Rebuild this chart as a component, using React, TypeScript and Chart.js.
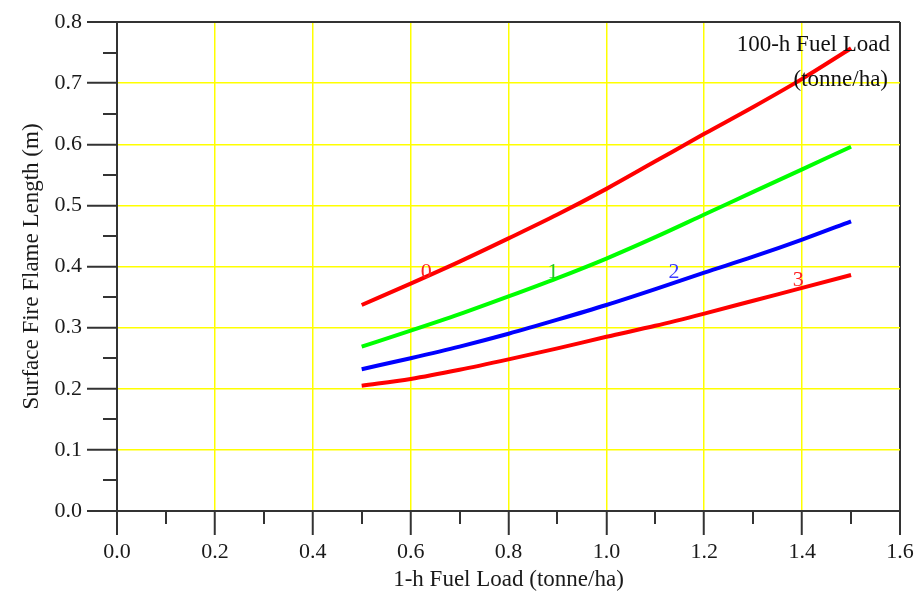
import React, { useEffect, useRef } from 'react';
import { Chart, registerables } from 'chart.js';

Chart.register(...registerables);

// 1-h fuel load (tonne/ha)
const X_VALUES = [0.5, 0.6, 0.7, 0.8, 0.9, 1.0, 1.1, 1.2, 1.3, 1.4, 1.5];
// Surface fire flame length (m) for 100-h fuel load 0,1,2,3 tonne/ha
const SERIES_0 = [0.337, 0.372, 0.408, 0.446, 0.485, 0.527, 0.572, 0.617, 0.661, 0.707, 0.757];
const SERIES_1 = [0.269, 0.295, 0.322, 0.351, 0.381, 0.413, 0.448, 0.485, 0.522, 0.559, 0.596];
const SERIES_2 = [0.232, 0.250, 0.269, 0.290, 0.313, 0.337, 0.363, 0.390, 0.416, 0.444, 0.474];
const SERIES_3 = [0.205, 0.216, 0.231, 0.248, 0.266, 0.285, 0.303, 0.323, 0.344, 0.365, 0.386];
const SERIES_NAMES = ['0', '1', '2', '3'];
const SERIES_COLORS = ['#ff0000', '#00ff00', '#0000ff', '#ff0000'];
const LABEL_COLORS = ['#ff2020', '#20c820', '#3a3aff', '#ff2020'];
// where the series names sit (data coordinates)
const LABEL_X = [0.632, 0.891, 1.138, 1.392];
const LABEL_Y = [0.391, 0.391, 0.390, 0.378];

const X_TICKS = [0, 0.2, 0.4, 0.6, 0.8, 1.0, 1.2, 1.4, 1.6];
const X_MINOR = [0.1, 0.3, 0.5, 0.7, 0.9, 1.1, 1.3, 1.5];
const Y_TICKS = [0, 0.1, 0.2, 0.3, 0.4, 0.5, 0.6, 0.7, 0.8];
const Y_MINOR = [0.05, 0.15, 0.25, 0.35, 0.45, 0.55, 0.65, 0.75];

const X_TITLE = '1-h Fuel Load (tonne/ha)';
const Y_TITLE = 'Surface Fire Flame Length (m)';
const LEGEND_TITLE = ['100-h Fuel Load', '(tonne/ha)'];

const FONT = '"Liberation Serif", "Times New Roman", serif';
const AXIS = '#333333';
const GRID = '#ffff00';

const near = (a: number, b: number) => Math.abs(a - b) < 1e-6;

const extras = {
  id: 'extras',
  afterDraw(chart: any) {
    const { ctx, chartArea, scales } = chart;
    const x = scales.x;
    const y = scales.y;
    ctx.save();
    ctx.strokeStyle = AXIS;
    ctx.lineWidth = 2;
    ctx.beginPath();
    X_MINOR.forEach((v) => {
      const px = Math.round(x.getPixelForValue(v));
      ctx.moveTo(px, chartArea.bottom);
      ctx.lineTo(px, chartArea.bottom + 13);
    });
    Y_MINOR.forEach((v) => {
      const py = Math.round(y.getPixelForValue(v));
      ctx.moveTo(chartArea.left, py);
      ctx.lineTo(chartArea.left - 14, py);
    });
    ctx.stroke();

    ctx.font = `22px ${FONT}`;
    ctx.textAlign = 'center';
    ctx.textBaseline = 'middle';
    SERIES_NAMES.forEach((n, i) => {
      ctx.fillStyle = LABEL_COLORS[i];
      ctx.fillText(n, x.getPixelForValue(LABEL_X[i]), y.getPixelForValue(LABEL_Y[i]));
    });

    ctx.font = `23px ${FONT}`;
    ctx.fillStyle = '#111111';
    ctx.textAlign = 'right';
    ctx.fillText(LEGEND_TITLE[0], chartArea.right - 10, chartArea.top + 23);
    ctx.fillText(LEGEND_TITLE[1], chartArea.right - 12, chartArea.top + 58);
    ctx.restore();
  },
};

export default function App() {
  const ref = useRef<HTMLCanvasElement | null>(null);

  useEffect(() => {
    document.body.style.margin = '0';
    const canvas = ref.current;
    if (!canvas) return;
    const series = [SERIES_0, SERIES_1, SERIES_2, SERIES_3];
    const chart = new Chart(canvas, {
      type: 'line',
      data: {
        datasets: series.map((s, i) => ({
          label: SERIES_NAMES[i],
          data: X_VALUES.map((xv, j) => ({ x: xv, y: s[j] })),
          borderColor: SERIES_COLORS[i],
          backgroundColor: SERIES_COLORS[i],
          borderWidth: 4,
          pointRadius: 0,
          fill: false,
          cubicInterpolationMode: 'monotone' as const,
        })),
      },
      options: {
        responsive: false,
        maintainAspectRatio: false,
        animation: false,
        layout: { padding: { top: 22, right: 19, left: 0, bottom: 0 } },
        plugins: {
          legend: { display: false },
          tooltip: { enabled: false },
        },
        scales: {
          x: {
            type: 'linear',
            min: 0,
            max: 1.6,
            afterBuildTicks: (scale: any) => {
              scale.ticks = X_TICKS.map((v) => ({ value: v }));
            },
            afterFit: (scale: any) => {
              scale.height = 84;
            },
            ticks: {
              autoSkip: false,
              maxRotation: 0,
              padding: 4,
              color: '#1a1a1a',
              font: { family: FONT, size: 22 },
              callback: (v: any) => Number(v).toFixed(1),
            },
            grid: {
              color: (c: any) => (near(c.tick?.value, 0) || near(c.tick?.value, 1.6) ? AXIS : GRID),
              lineWidth: (c: any) => (near(c.tick?.value, 0) || near(c.tick?.value, 1.6) ? 2 : 1.5),
              tickColor: AXIS,
              tickWidth: 2,
              tickLength: 24,
              drawTicks: true,
            },
            border: { display: true, color: AXIS, width: 2 },
            title: {
              display: true,
              text: X_TITLE,
              color: '#1a1a1a',
              font: { family: FONT, size: 23 },
              padding: { top: 0, bottom: 1 },
            },
          },
          y: {
            type: 'linear',
            min: 0,
            max: 0.8,
            afterBuildTicks: (scale: any) => {
              scale.ticks = Y_TICKS.map((v) => ({ value: v }));
            },
            afterFit: (scale: any) => {
              scale.width = 117;
            },
            ticks: {
              autoSkip: false,
              padding: 5,
              color: '#1a1a1a',
              font: { family: FONT, size: 22 },
              callback: (v: any) => Number(v).toFixed(1),
            },
            grid: {
              color: (c: any) => (near(c.tick?.value, 0) || near(c.tick?.value, 0.8) ? AXIS : GRID),
              lineWidth: (c: any) => (near(c.tick?.value, 0) || near(c.tick?.value, 0.8) ? 2 : 1.5),
              tickColor: AXIS,
              tickWidth: 2,
              tickLength: 30,
              drawTicks: true,
            },
            border: { display: true, color: AXIS, width: 2 },
            title: {
              display: true,
              text: Y_TITLE,
              color: '#1a1a1a',
              font: { family: FONT, size: 23 },
              padding: { top: 18, bottom: 0 },
            },
          },
        },
      },
      plugins: [extras],
    } as any);
    return () => chart.destroy();
  }, []);

  return (
    <div style={{ position: 'absolute', left: 0, top: 0, width: 919, height: 595, background: '#fff' }}>
      <canvas ref={ref} width={919} height={595} style={{ display: 'block' }} />
    </div>
  );
}
